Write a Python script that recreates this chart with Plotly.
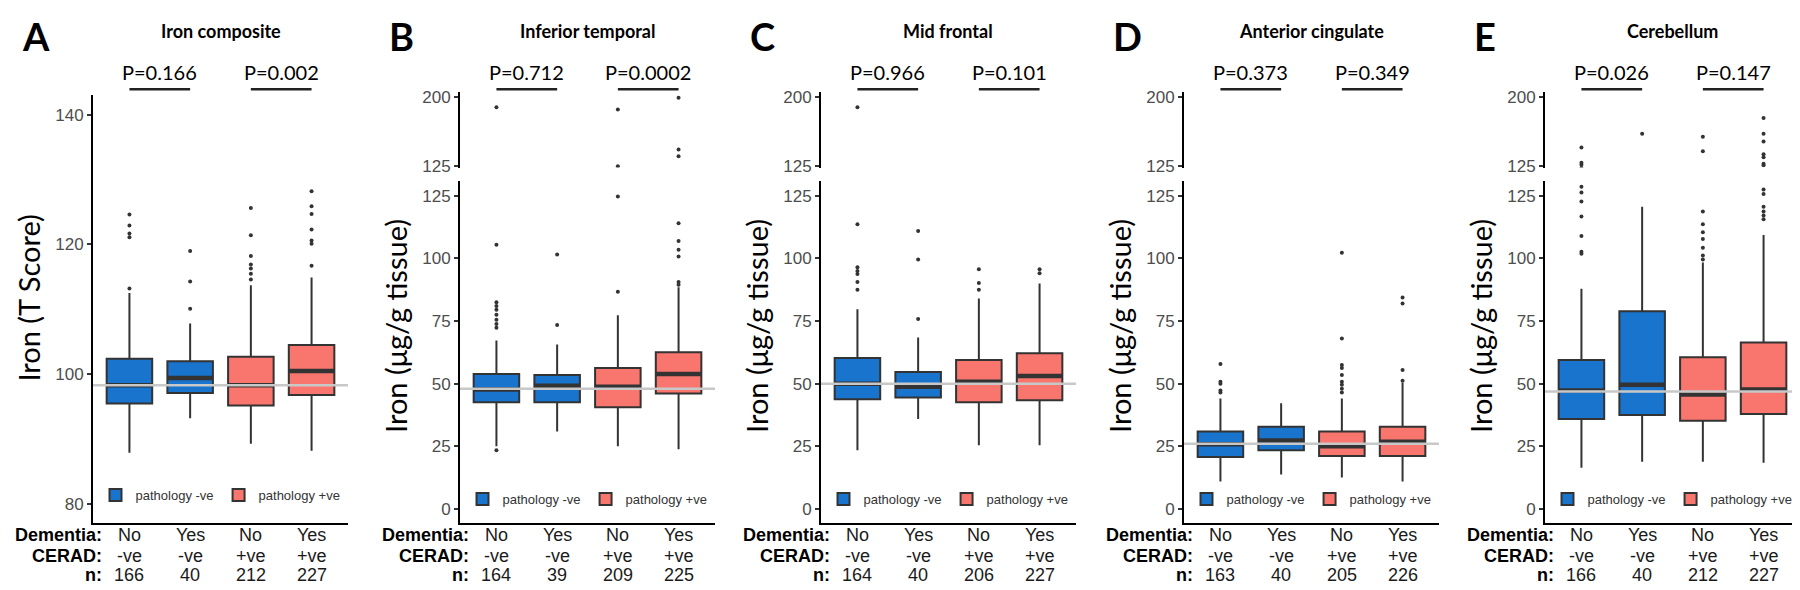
import plotly.graph_objects as go

# ---- data ----
panel_letters = ["A", "B", "C", "D", "E"]
titles = ["Iron composite", "Inferior temporal", "Mid frontal", "Anterior cingulate", "Cerebellum"]
y_titles = ["Iron (T Score)", "Iron (μg/g tissue)", "Iron (μg/g tissue)",
            "Iron (μg/g tissue)", "Iron (μg/g tissue)"]
p_left = ["P=0.166", "P=0.712", "P=0.966", "P=0.373", "P=0.026"]
p_right = ["P=0.002", "P=0.0002", "P=0.101", "P=0.349", "P=0.147"]

dementia = ["No", "Yes", "No", "Yes"]
cerad = ["-ve", "-ve", "+ve", "+ve"]
n_counts = [
    [166, 40, 212, 227],
    [164, 39, 209, 225],
    [164, 40, 206, 227],
    [163, 40, 205, 226],
    [166, 40, 212, 227],
]

group_names = ["pathology -ve", "pathology +ve"]

# grey reference line (overall median)
ref_line = [98.3, 48.0, 50.0, 26.0, 46.9]

q1 = [
    [95.5, 97.1, 95.2, 96.8],
    [42.6, 42.6, 40.6, 46.1],
    [43.8, 44.5, 42.6, 43.4],
    [20.7, 23.4, 21.1, 21.1],
    [35.9, 37.5, 35.2, 37.9],
]
medians = [
    [98.3, 99.4, 98.3, 100.5],
    [47.7, 49.2, 48.8, 53.9],
    [50.0, 48.8, 50.8, 53.1],
    [25.8, 27.3, 25.0, 26.8],
    [47.3, 49.6, 45.7, 47.7],
]
q3 = [
    [102.4, 102.0, 102.7, 104.5],
    [53.9, 53.5, 56.3, 62.5],
    [60.2, 54.7, 59.4, 62.1],
    [30.9, 32.8, 30.9, 32.8],
    [59.4, 78.9, 60.5, 66.4],
]
whisker_low = [
    [87.9, 93.2, 89.3, 88.2],
    [25.0, 30.9, 25.0, 23.8],
    [23.4, 35.9, 25.4, 25.4],
    [10.9, 13.7, 12.5, 10.9],
    [16.4, 18.8, 18.8, 18.4],
]
whisker_high = [
    [112.5, 107.8, 113.7, 114.9],
    [67.2, 65.6, 77.3, 88.5],
    [79.7, 68.4, 84.0, 90.0],
    [44.1, 42.2, 44.1, 50.4],
    [87.9, 120.7, 98.4, 109.4],
]
outliers = [
    [[124.6, 122.9, 121.7, 121.1, 113.2],
     [119.0, 114.3, 110.1],
     [125.6, 121.4, 118.2, 116.9, 116.3, 115.5, 114.6],
     [128.2, 125.9, 124.7, 122.3, 120.6, 120.1, 116.7]],
    [[188.4, 105.5, 82.5, 81.0, 79.5, 77.5, 75.5, 73.8, 72.3, 23.4],
     [101.6, 73.4],
     [186.2, 124.8, 86.7],
     [198.9, 143.0, 135.6, 114.1, 107.0, 103.5, 100.8, 90.6, 89.5]],
    [[188.4, 113.7, 96.5, 95.0, 93.8, 90.6, 87.5],
     [111.0, 99.6, 75.8],
     [95.7, 90.2, 87.5],
     [95.7, 94.1]],
    [[57.8, 50.8, 50.0, 47.3, 46.5],
     [],
     [102.3, 68.0, 57.4, 56.3, 53.5, 50.8, 49.6, 48.0, 46.5],
     [84.4, 82.0, 55.5, 51.2]],
    [[145.1, 128.6, 126.4, 122.8, 116.8, 109.0, 102.7, 101.9],
     [159.9],
     [156.7, 140.9, 118.8, 113.7, 110.5, 107.8, 104.3, 101.2, 99.6],
     [176.8, 159.9, 151.4, 137.7, 134.5, 127.5, 125.8, 120.7, 118.8, 117.2, 115.7]],
]

# ---- layout helpers ----
W, H = 1800, 590
colors = ["#1874CD", "#F8766D"]
ink = "#333333"
calibri_like = "Lato"
arial_like = "Liberation Sans"
left_px = [85, 452, 813, 1176, 1537]
panel_w = 255


def fx(p):
    return p / W


def fy(p):
    return 1 - p / H


fig = go.Figure()
shapes = []
annotations = []

for k in range(5):
    sfx = "" if k == 0 else str(k + 1)
    xa, ya = "x" + sfx, "y" + sfx
    leg = "legend" + sfx
    x0p, x1p = left_px[k], left_px[k] + panel_w

    for g in range(2):
        idx = [2 * g, 2 * g + 1]
        fig.add_trace(go.Box(
            x=idx,
            q1=[q1[k][i] for i in idx],
            median=[medians[k][i] for i in idx],
            q3=[q3[k][i] for i in idx],
            lowerfence=[whisker_low[k][i] for i in idx],
            upperfence=[whisker_high[k][i] for i in idx],
            name=group_names[g], fillcolor=colors[g],
            line=dict(color=ink, width=2), whiskerwidth=0, width=0.75,
            boxpoints=False, xaxis=xa, yaxis=ya, legend=leg, showlegend=True,
        ))
    # thicker median bar like ggplot (line-ew length = 1.4 * size)
    fig.add_trace(go.Scatter(
        x=[0, 1, 2, 3], y=medians[k], mode="markers",
        marker=dict(symbol="line-ew", size=32, line=dict(width=4.5, color=ink)),
        showlegend=False, hoverinfo="skip", xaxis=xa, yaxis=ya,
    ))
    ox, oy = [], []
    for i in range(4):
        for v in outliers[k][i]:
            ox.append(i)
            oy.append(v)
    fig.add_trace(go.Scatter(x=ox, y=oy, mode="markers",
                             marker=dict(size=4, color=ink),
                             showlegend=False, xaxis=xa, yaxis=ya))

    fig.update_layout(**{
        "xaxis" + sfx: dict(domain=[fx(x0p), fx(x1p)], range=[-0.6, 3.6], anchor=ya,
                            showline=True, linecolor="black", linewidth=2,
                            showticklabels=False, ticks="", showgrid=False, zeroline=False),
    })
    tick_font = dict(family=arial_like, size=17, color="#4d4d4d")
    if k == 0:
        fig.update_layout(yaxis=dict(
            domain=[fy(522), fy(84)], range=[77, 143], anchor=xa,
            tickvals=[80, 100, 120, 140], tickfont=tick_font,
            showline=True, linecolor="black", linewidth=2, ticks="outside", ticklen=4,
            tickwidth=1.5, tickcolor=ink, showgrid=False, zeroline=False))
    else:
        fig.update_layout(**{
            "yaxis" + sfx: dict(
                domain=[fy(521), fy(172)], range=[-5.47, 130.86], anchor=xa,
                tickvals=[0, 25, 50, 75, 100, 125], tickfont=tick_font,
                showline=True, linecolor="black", linewidth=2, ticks="outside", ticklen=4,
                tickwidth=1.5, tickcolor=ink, showgrid=False, zeroline=False),
        })
        up = "y" + str(k + 5)
        fig.update_layout(**{
            "yaxis" + str(k + 5): dict(
                domain=[fy(158), fy(81)], range=[123.4, 204.75], anchor=xa,
                tickvals=[125, 200], tickfont=tick_font,
                showline=True, linecolor="black", linewidth=2, ticks="outside", ticklen=4,
                tickwidth=1.5, tickcolor=ink, showgrid=False, zeroline=False),
        })
        fig.add_trace(go.Scatter(x=ox, y=oy, mode="markers",
                                 marker=dict(size=4, color=ink),
                                 showlegend=False, xaxis=xa, yaxis=up))

    fig.update_layout(**{
        leg: dict(orientation="h", x=fx((x0p + x1p) / 2), xanchor="center",
                  y=fy(493 if k == 0 else 497), yanchor="middle",
                  font=dict(family=arial_like, size=13, color=ink),
                  bgcolor="rgba(0,0,0,0)", itemclick=False, itemdoubleclick=False),
    })

    # reference line
    shapes.append(dict(type="line", xref=xa + " domain", x0=0, x1=1, yref=ya,
                       y0=ref_line[k], y1=ref_line[k],
                       line=dict(color="#c8c8c8", width=2.5), layer="above"))
    # comparison brackets
    for a, b, txt in [(0, 1, p_left[k]), (2, 3, p_right[k])]:
        shapes.append(dict(type="line", xref=xa, x0=a, x1=b, yref="paper",
                           y0=fy(78), y1=fy(78), line=dict(color="#222222", width=2.5)))
        annotations.append(dict(text=txt, xref=xa, x=(a + b) / 2, yref="paper", y=fy(60),
                                showarrow=False, xanchor="center", yanchor="middle",
                                font=dict(family=calibri_like, size=20, color="black")))

    annotations.append(dict(text="<b>%s</b>" % panel_letters[k], xref="paper", x=fx(x0p - 73),
                            yref="paper", y=fy(24), xanchor="left", yanchor="middle",
                            showarrow=False,
                            font=dict(family=calibri_like, size=38, color="black")))
    annotations.append(dict(text="<b>%s</b>" % titles[k], xref="paper",
                            x=fx((x0p + x1p) / 2), yref="paper", y=fy(18),
                            xanchor="center", yanchor="middle", showarrow=False,
                            font=dict(family=calibri_like, size=18, color="black")))
    annotations.append(dict(text=y_titles[k], xref="paper", x=fx(x0p - 64), yref="paper",
                            y=fy(292 if k == 0 else 320), textangle=-90,
                            xanchor="center", yanchor="middle", showarrow=False,
                            font=dict(family=calibri_like, size=29, color="black")))

    rows = [("Dementia:", dementia, 534), ("CERAD:", cerad, 555), ("n:", n_counts[k], 575)]
    for label, vals, ypx in rows:
        annotations.append(dict(text="<b>%s</b>" % label, xref="paper", x=fx(x0p + 11),
                                yref="paper", y=fy(ypx), xanchor="right", yanchor="middle",
                                showarrow=False,
                                font=dict(family=arial_like, size=18, color="black")))
        for i, v in enumerate(vals):
            annotations.append(dict(text=str(v), xref=xa, x=i, yref="paper", y=fy(ypx),
                                    xanchor="center", yanchor="middle", showarrow=False,
                                    font=dict(family=arial_like, size=18, color="#1a1a1a")))

fig.update_layout(
    width=W, height=H,
    margin=dict(l=0, r=0, t=0, b=0),
    paper_bgcolor="white", plot_bgcolor="white",
    shapes=shapes, annotations=annotations,
    boxmode="overlay",
)

fig.write_html("out.html")
